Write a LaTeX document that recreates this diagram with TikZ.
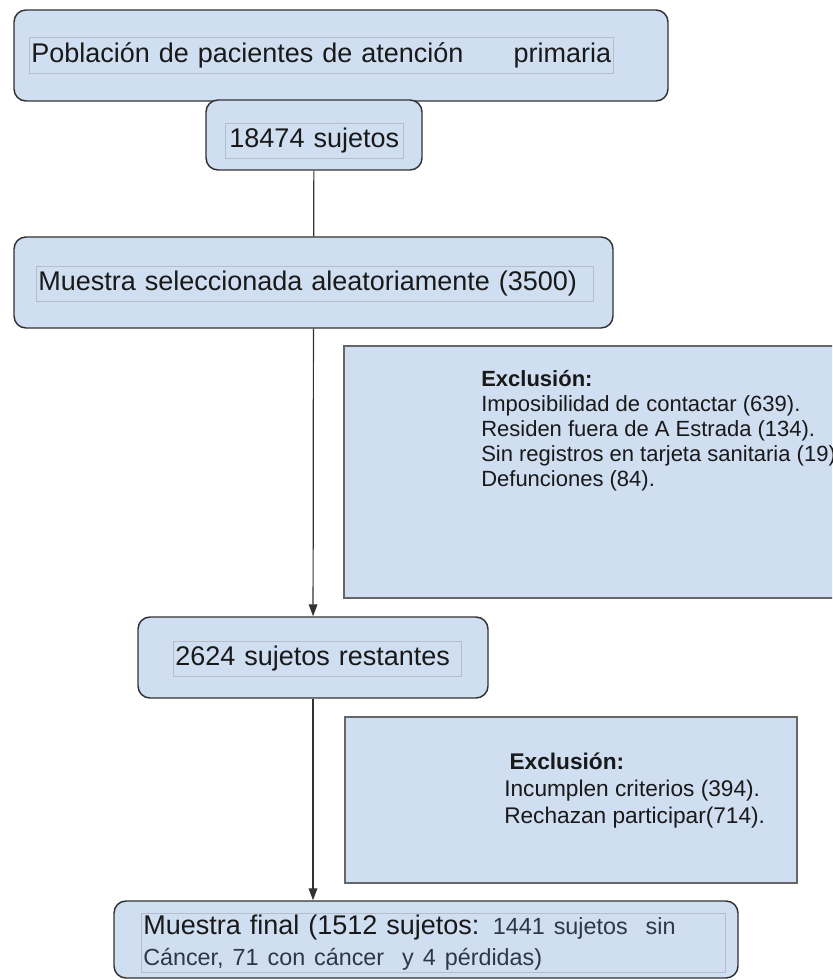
\documentclass[tikz,border=0pt]{standalone}
\usepackage{fontspec}
\setmainfont{Liberation Sans}
\usetikzlibrary{arrows.meta,fit}
\definecolor{boxblue}{RGB}{207,222,240}
\definecolor{framegray}{RGB}{180,190,202}
\definecolor{edgegray}{RGB}{50,50,50}
\definecolor{inkgray}{RGB}{45,55,70}

\begin{document}
\begin{tikzpicture}[x=0.75pt,y=-0.75pt,
  stage/.style={draw=edgegray, line width=1.1pt, fill=boxblue, rounded corners=9pt, inner sep=0pt},
  exclbox/.style={draw=gray!80!black, line width=1.1pt, fill=boxblue, inner sep=0pt},
  tframe/.style={draw=framegray, line width=0.4pt, inner xsep=1.5pt, inner ysep=0pt, align=left, anchor=north west, text=black!90},
  bigtxt/.style={font=\fontsize{20.25pt}{23.25pt}\selectfont},
  exceltxt/.style={anchor=north west, inner sep=0pt, align=left, text=black!90},
  link/.style={draw=edgegray, line width=0.9pt},
  flow/.style={link, -{Triangle[length=9pt,width=6.5pt]}}]
  \useasboundingbox (0,0) rectangle (832,980);
  \clip (0,0) rectangle (832,980);

  % flow boxes
  \node[stage, fit={(14,10) (668,101)}] (pob) {};
  \node[stage, fit={(206,100) (422,170)}] (suj) {};
  \node[stage, fit={(14,237) (613,328)}] (mues) {};
  \node[stage, fit={(138,617) (488,698)}] (rest) {};
  \node[stage, fit={(114,901) (738,978)}] (final) {};

  % exclusion boxes
  \node[exclbox, fit={(344,346) (850,598)}] (excl1) {};
  \node[exclbox, fit={(345,717) (797,883)}] (excl2) {};

  % texts
  \node[tframe, bigtxt, text width=435pt, minimum height=27pt] (pobtxt) at (29,37)
    {Población de pacientes de atención\hfill primaria};
  \node[tframe, bigtxt, text width=130.5pt, minimum height=26.25pt, align=center] (sujtxt) at (225,123)
    {18474 sujetos};
  \node[tframe, bigtxt, text width=414.75pt, minimum height=26.25pt] (muestxt) at (36,266)
    {Muestra seleccionada aleatoriamente (3500)};
  \node[tframe, bigtxt, text width=213pt, minimum height=26.25pt] (resttxt) at (173,641)
    {2624 sujetos restantes};
  \node[tframe, bigtxt, text width=435pt, minimum height=44.25pt] (finaltxt) at (141,913)
    {Muestra final (1512 sujetos: {\fontsize{17.5pt}{23.25pt}\selectfont\color{inkgray}1441 sujetos\ \ sin}\\
     {\fontsize{17.5pt}{23.25pt}\selectfont\color{inkgray}Cáncer, 71 con cáncer\ \ y 4 pérdidas)}};

  \node[exceltxt, font=\fontsize{16.5pt}{18.75pt}\selectfont] (excl1txt) at (481,370)
    {\textbf{Exclusión:}\\
     Imposibilidad de contactar (639).\\
     Residen fuera de A Estrada (134).\\
     Sin registros en tarjeta sanitaria (19).\\
     Defunciones (84).};
  \node[exceltxt, font=\fontsize{17pt}{20.25pt}\selectfont] (excl2txt) at (504,753)
    {\hspace*{4pt}\textbf{Exclusión:}\\
     Incumplen criterios (394).\\
     Rechazan participar(714).};

  % connectors
  \draw[link] (suj) -- (mues);
  \draw[flow] (mues) -- (rest);
  \draw[flow] (rest.south) -- (rest.south |- final.north);
\end{tikzpicture}
\end{document}
